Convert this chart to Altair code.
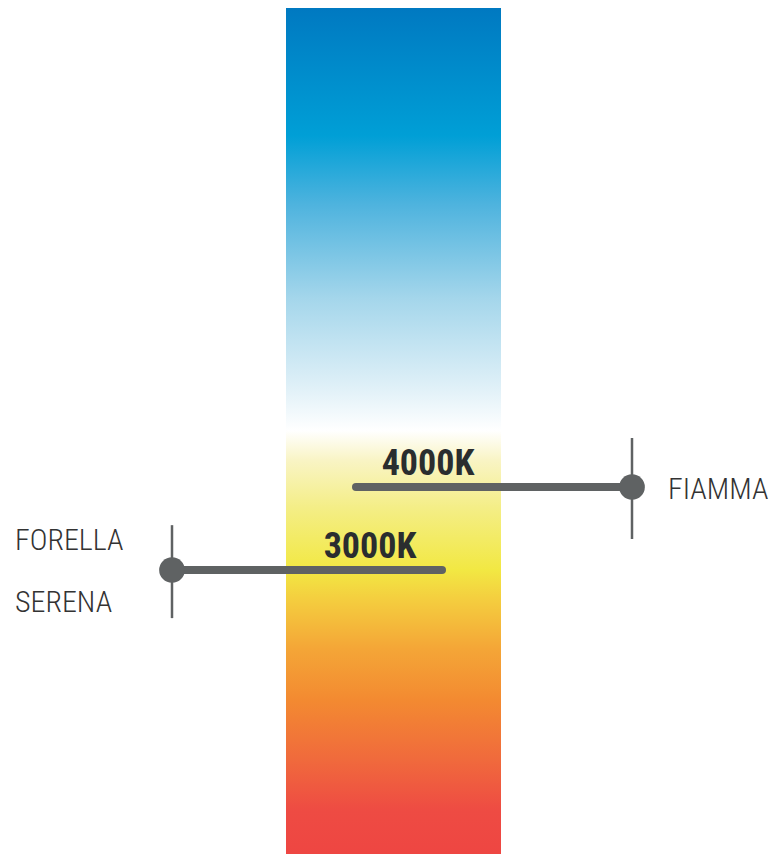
import altair as alt
import pandas as pd

# --- data -------------------------------------------------------------
temps = [4000, 3000]                      # colour temperature (K)
temp_labels = ["4000K", "3000K"]
line_start = [348, 164]                   # horizontal position of line start
line_end = [624, 434]                     # horizontal position of line end
dot_pos = [624, 164]                      # marker position
tick_low = [3373, 2420]                   # vertical tick extent (K)
tick_high = [4590, 3540]
label_center = [420, 362]                 # centre of the "xxxxK" label

names = ["FIAMMA", "FORELLA", "SERENA"]
name_x = [660, 7, 7]
name_temp = [4000, 3000, 3000]
name_dy = [3, -29, 33]

bar_x = [278, 493]
y_top, y_bottom = 9771, -422

stop_offsets = [0.0, 0.151, 0.232, 0.343, 0.444, 0.4997, 0.535, 0.591, 0.664, 0.697, 0.757, 0.818, 0.888, 0.949, 1.0]
stop_colors = ["#0079c1", "#009fd6", "#4eb3de", "#a4d6eb", "#ddeff7", "#ffffff", "#f9f4c4",
               "#f4ee86", "#f2e843", "#f4cf3f", "#f4a637", "#f38a31", "#f06a3c", "#ee4b43", "#ee4642"]

# --- scales -----------------------------------------------------------
W, H = 762, 846
xs = alt.Scale(domain=[0, W], nice=False, zero=False)
ys = alt.Scale(domain=[y_bottom, y_top], nice=False, zero=False)
X = lambda f: alt.X(f, type="quantitative", scale=xs, axis=None)
Y = lambda f: alt.Y(f, type="quantitative", scale=ys, axis=None)

bar_df = pd.DataFrame({"x": [bar_x[0]], "x2": [bar_x[1]], "y": [y_top], "y2": [y_bottom]})
grad = alt.Gradient(
    gradient="linear",
    stops=[alt.GradientStop(offset=o, color=c) for o, c in zip(stop_offsets, stop_colors)],
    x1=0, x2=0, y1=0, y2=1,
)
bar = alt.Chart(bar_df).mark_rect(color=grad).encode(
    x=X("x"), x2="x2", y=Y("y"), y2="y2"
)

m_df = pd.DataFrame({
    "t": temps, "label": temp_labels, "x1": line_start, "x2": line_end,
    "dot": dot_pos, "lo": tick_low, "hi": tick_high, "lc": label_center,
})

ticks = alt.Chart(m_df).mark_rule(color="#5f6263", strokeWidth=2.5).encode(
    x=X("dot"), y=Y("lo"), y2="hi"
)
lines = alt.Chart(m_df).mark_rule(color="#5f6263", strokeWidth=8, strokeCap="round").encode(
    x=X("x1"), x2="x2", y=Y("t")
)
dots = alt.Chart(m_df).mark_circle(color="#5f6263", opacity=1, size=660).encode(
    x=X("dot"), y=Y("t")
)
tlabels = alt.Chart(m_df).mark_text(
    font="Roboto Condensed, Liberation Sans Narrow, Roboto", fontWeight="bold", fontSize=36,
    color="#2a2d2f", baseline="alphabetic", align="center", dy=-12,
).encode(x=X("lc"), y=Y("t"), text="label:N")

n_df = pd.DataFrame({"name": names, "x": name_x, "t": name_temp, "dy": name_dy})
nlayers = []
for i in range(len(names)):
    nlayers.append(
        alt.Chart(n_df.iloc[[i]]).mark_text(
            font="Roboto Condensed, Liberation Sans Narrow, Roboto", fontWeight=300, fontSize=30,
            color="#333333", baseline="middle", align="left", dy=name_dy[i],
        ).encode(x=X("x"), y=Y("t"), text="name:N")
    )

chart = alt.layer(bar, ticks, lines, dots, tlabels, *nlayers).properties(
    width=W, height=H, padding=0, autosize=alt.AutoSizeParams(type="none"),
).configure_view(stroke=None)

chart.save("out.html", embed_options={"renderer": "svg", "actions": False})
